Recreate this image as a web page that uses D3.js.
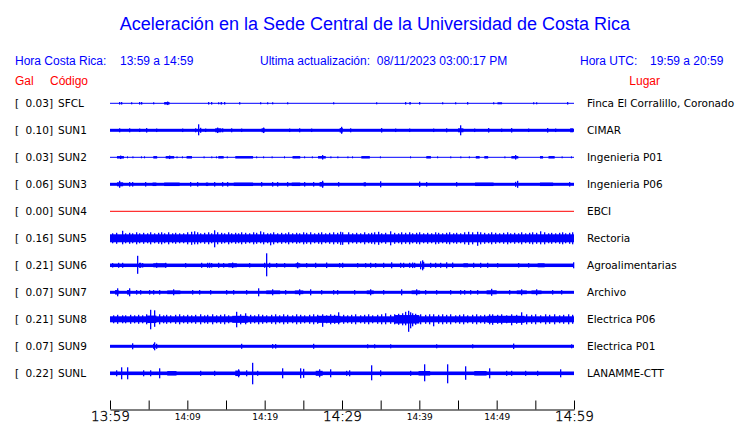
<!DOCTYPE html>
<html><head><meta charset="utf-8">
<script src="https://cdn.jsdelivr.net/npm/d3@7"></script>
<style>
html,body{margin:0;padding:0;background:#fff;}
svg{display:block;}
</style></head>
<body>
<svg id="chart" width="740" height="423"></svg>
<script>
// ---------- data ----------
const codes  = ["SFCL","SUN1","SUN2","SUN3","SUN4","SUN5","SUN6","SUN7","SUN8","SUN9","SUNL"];
const gal    = ["0.03","0.10","0.03","0.06","0.00","0.16","0.21","0.07","0.21","0.07","0.22"];
const places = ["Finca El Corralillo, Coronado","CIMAR","Ingenieria P01","Ingenieria P06","EBCI","Rectoria","Agroalimentarias","Archivo","Electrica P06","Electrica P01","LANAMME-CTT"];
// base noise half-amplitude (Gal)
const baseAmp = [0.004,0.03,0.008,0.03,0,0.08,0.035,0.03,0.06,0.03,0.036];
// bursts: [minStart, minEnd, halfAmpGal]
const bursts = {
 SFCL:[[7.0,7.7,.025],[14.3,14.5,.025],[16.7,16.85,.025],[38.7,38.9,.025],[50.1,50.7,.02]],
 SUN1:[[13.6,14.4,.04],[19.6,20.0,.04],[29.7,30.1,.045],[45.0,45.7,.04],[59.5,59.9,.04]],
 SUN2:[[0.9,1.8,.025],[2.2,2.3,.02],[2.9,3.0,.02],[4.0,4.1,.02],[4.4,4.5,.02],[5.6,6.1,.025],[7.2,8.3,.025],[8.6,8.7,.02],[9.3,9.4,.02],[9.9,10.6,.025],[12.1,12.2,.02],[13.1,13.2,.02],[13.7,13.8,.02],[14.0,14.7,.025],[15.1,15.2,.02],[16.2,18.5,.025],[18.9,19.0,.02],[19.8,19.9,.02],[20.9,21.0,.02],[22.5,22.6,.02],[23.6,24.6,.025],[25.1,25.2,.02],[26.1,26.2,.02],[26.9,27.9,.025],[28.5,28.6,.02],[29.4,29.5,.02],[30.7,30.8,.02],[31.3,31.4,.02],[32.5,33.6,.025],[34.9,35.0,.02],[38.8,38.9,.02],[40.9,41.5,.025],[42.3,42.4,.02],[44.0,44.1,.02],[45.3,45.4,.02],[46.4,46.5,.02],[47.3,47.8,.025],[48.4,48.9,.025],[51.0,51.1,.02],[51.9,52.8,.025],[55.6,56.0,.025],[56.7,57.5,.025],[58.4,58.5,.02],[59.6,59.7,.02]],
 SUN3:[[0.9,1.7,.04],[5.5,6.0,.035],[7.0,9.0,.035],[12.4,12.7,.035],[16.0,18.5,.035],[23.5,24.6,.035],[27.1,27.6,.045],[32.8,33.1,.04],[47.2,49.6,.035],[55.6,57.3,.035]],
 SUN4:[],
 SUN5:[],
 SUN6:[[5.6,7.3,.04],[15.3,16.4,.04],[24.0,24.6,.04],[45.7,46.3,.04],[55.3,56.2,.04]],
 SUN7:[[0.65,1.1,.045],[2.2,2.6,.045],[7.4,9.1,.037],[20.2,22.0,.037],[23.9,25.0,.037],[33.2,34.1,.037],[39.0,40.1,.037],[48.7,50.0,.04],[52.6,53.9,.037],[54.5,55.8,.037]],
 SUN8:[[36.8,40.0,.085],[4.8,6.0,.075],[15.8,17.8,.07],[26.8,29.8,.07],[48.8,53.6,.07]],
 SUN9:[],
 SUNL:[[7.4,8.6,.045],[16.2,16.8,.055],[26.6,27.5,.05],[39.9,41.4,.045],[47.1,48.7,.045]]
};
// spikes: [minute, upGal, downGal(optional)]
const spikes = {
 SFCL:[[1.1,.025],[1.4,.025],[2.7,.02],[3.7,.025],[4.0,.025],[5.6,.02],[7.4,.035],[12.7,.025],[13.1,.025],[14.0,.02],[14.8,.025],[19.4,.02],[20.3,.02],[20.9,.02],[22.9,.02],[28.9,.02],[34.4,.02],[38.1,.025],[39.9,.025],[42.9,.02],[44.6,.02],[46.1,.025],[49.5,.02],[54.7,.02],[55.1,.02],[59.1,.025]],
 SUN1:[[1.2,.04],[2.4,.04],[3.7,.035],[4.6,.045],[5.9,.035],[9.3,.035],[11.0,.04],[11.4,.12,.1],[11.6,.05],[12.3,.035],[13.9,.055],[14.5,.04],[15.6,.04],[16.9,.035],[19.8,.055],[23.1,.035],[24.4,.04],[26.0,.035],[29.9,.07],[31.0,.04],[35.1,.045],[36.8,.035],[38.6,.035],[41.8,.035],[43.5,.04],[45.3,.1],[47.1,.035],[48.9,.045],[50.5,.035],[51.9,.045],[54.0,.035],[56.5,.045],[57.5,.035]],
 SUN2:[[27.35,.045],[52.4,.045],[1.3,.035],[7.6,.035]],
 SUN3:[[1.2,.07],[2.4,.045],[2.8,.045],[4.5,.045],[10.4,.045],[11.3,.045],[13.4,.045],[14.5,.045],[15.1,.045],[19.5,.045],[21.0,.045],[21.6,.045],[22.9,.045],[25.1,.045],[26.3,.045],[27.4,.07],[29.5,.045],[34.9,.06],[39.9,.055],[40.9,.045],[44.7,.045],[52.4,.05],[52.6,.07],[59.4,.045]],
 SUN4:[],
 SUN5:[[0.3,.1],[0.8,.11],[1.5,.15,.12],[1.9,.1],[2.4,.11],[2.9,.1],[3.3,.12],[3.8,.1],[4.3,.11],[4.8,.1],[5.2,.12],[5.7,.1],[6.2,.11],[6.6,.12],[7.0,.1],[7.5,.12],[8.0,.1],[8.4,.11],[8.9,.1],[9.4,.1],[9.9,.12],[10.5,.13],[10.8,.14,.12],[11.2,.12],[11.7,.1],[12.2,.11],[12.7,.12],[13.1,.1],[13.4,.16,.18],[13.8,.12],[14.3,.11],[14.8,.1],[15.2,.12],[15.7,.1],[16.1,.11],[16.6,.1],[17.0,.12],[17.5,.11],[18.0,.1],[18.5,.12],[18.9,.11],[19.4,.14,.1],[19.8,.12],[20.3,.1],[20.7,.1,.14],[21.1,.12],[21.6,.1],[22.1,.11],[22.6,.1],[23.0,.12],[23.5,.1],[24.0,.11],[24.5,.1],[25.0,.12],[25.4,.11],[25.9,.12],[26.4,.1],[26.9,.11],[27.3,.12],[27.8,.1],[28.3,.11],[28.8,.12],[29.3,.11],[29.8,.13],[30.0,.12,.13],[30.8,.12],[31.3,.1],[31.8,.11],[32.3,.1],[32.8,.12],[33.3,.1],[33.8,.11],[34.2,.12],[34.6,.13],[35.1,.1],[35.6,.11],[36.2,.14],[36.7,.11],[37.2,.1],[37.6,.12],[38.1,.11],[38.6,.12],[39.1,.1],[39.6,.11],[40.0,.12],[40.5,.1],[41.0,.11],[41.5,.1],[42.0,.12],[42.4,.11],[42.9,.1],[43.4,.11],[43.9,.12],[44.3,.1],[44.8,.11],[45.3,.1],[45.8,.12],[46.3,.13],[46.8,.12],[47.4,.13,.15],[47.9,.12],[48.4,.11],[48.9,.1],[49.3,.12],[49.8,.11],[50.3,.1],[50.8,.11],[51.3,.12],[51.7,.1],[52.2,.11],[52.7,.1],[53.2,.12],[53.7,.1],[54.2,.11],[54.6,.12],[55.1,.11],[55.6,.14,.12],[56.1,.12],[56.6,.1],[57.0,.11],[57.5,.1],[58.0,.11],[58.5,.12],[58.9,.1],[59.4,.11],[59.8,.12]],
 SUN6:[[0.3,.045],[1.0,.05],[1.6,.05],[3.5,.19,.17],[3.7,.05],[3.9,.05],[4.2,.045],[6.0,.05],[7.1,.05],[9.7,.045],[11.8,.05],[12.5,.05],[12.8,.05],[13.1,.045],[14.0,.05],[14.6,.045],[15.8,.055],[18.0,.045],[19.9,.05],[20.2,.24,.22],[20.5,.05],[21.5,.045],[22.5,.045],[24.2,.06],[25.3,.045],[26.5,.05],[27.9,.055],[29.6,.045],[30.0,.05],[31.9,.045],[33.0,.045],[33.6,.05],[34.3,.045],[35.3,.05],[36.4,.06],[37.5,.05],[37.9,.05],[38.6,.05],[39.0,.055],[39.3,.05],[40.1,.08],[40.3,.1],[40.5,.07],[41.4,.05],[42.0,.05],[42.7,.05],[43.5,.06],[44.2,.055],[47.0,.05],[47.9,.05],[48.8,.05],[50.1,.045],[52.7,.045],[54.0,.045],[59.9,.06]],
 SUN7:[[0.9,.08],[2.4,.08],[3.3,.045],[3.9,.045],[5.1,.045],[5.6,.045],[6.3,.045],[8.2,.06],[10.6,.045],[11.5,.045],[12.9,.045],[15.0,.045],[15.9,.045],[17.6,.045],[19.1,.08],[21.0,.06],[22.6,.045],[24.4,.06],[25.8,.06],[27.3,.045],[28.8,.045],[29.4,.045],[31.5,.045],[33.6,.06],[35.3,.045],[37.6,.06],[39.6,.06],[40.7,.045],[42.1,.045],[44.0,.045],[45.2,.045],[45.8,.045],[46.6,.045],[47.4,.045],[49.3,.07],[51.6,.045],[53.2,.06],[55.1,.06],[57.1,.045],[58.3,.045]],
 SUN8:[[0.4,.08],[0.9,.09],[1.5,.08],[2.0,.08],[2.6,.09],[3.1,.08],[3.6,.09],[4.1,.08],[4.6,.1],[5.2,.19,.2],[5.7,.18,.15],[6.3,.1],[6.8,.08],[7.3,.09],[7.8,.08],[8.4,.09],[8.9,.1],[9.4,.08],[10.0,.09],[10.5,.08],[11.0,.09],[11.6,.1],[12.1,.08],[12.6,.09],[13.2,.1],[13.7,.08],[14.2,.09],[14.8,.1],[15.3,.08],[16.3,.15,.16],[16.8,.1],[17.5,.12,.1],[18.1,.09],[18.6,.08],[19.2,.1],[19.7,.09],[20.2,.08],[20.8,.09],[21.3,.1],[21.9,.08],[22.4,.1],[22.9,.09],[23.5,.08],[24.0,.1],[24.6,.09],[25.1,.08],[25.7,.09],[26.2,.1],[26.8,.09],[27.4,.1,.15],[27.9,.08],[28.5,.1],[29.0,.09],[29.5,.14,.1],[30.1,.09],[30.6,.08],[31.2,.09],[31.7,.1],[32.3,.08],[32.8,.09],[33.4,.1],[33.9,.08],[34.5,.09],[35.0,.1],[35.6,.12,.1],[36.2,.09],[36.7,.1],[37.2,.11],[37.7,.12],[38.1,.15,.12],[38.5,.17,.25],[38.8,.14,.18],[39.0,.12,.14],[39.5,.11],[40.1,.1],[40.7,.09],[41.2,.1],[41.8,.1,.14],[42.4,.09],[42.9,.1],[43.5,.09],[44.0,.1],[44.6,.08],[45.1,.09],[45.7,.1],[46.2,.08],[46.8,.09],[47.3,.1],[47.9,.08],[48.4,.09],[49.0,.1],[49.4,.1,.11],[50.0,.09],[50.6,.1],[51.2,.08],[51.9,.1,.12],[52.5,.09],[53.2,.14,.11],[53.8,.1],[54.4,.09],[55.0,.1],[55.6,.08],[56.2,.1],[56.8,.09],[57.4,.1],[58.0,.08],[58.6,.09],[59.2,.1],[59.8,.09]],
 SUN9:[[2.9,.06],[5.5,.05],[5.7,.08],[5.9,.05],[17.0,.05],[20.9,.045],[21.3,.045],[26.2,.05],[33.2,.04],[34.1,.04],[36.2,.04],[42.2,.04],[46.8,.04],[52.1,.055],[59.6,.04]],
 SUNL:[[0.78,.06],[1.38,.12],[2.15,.12],[4.3,.06],[5.2,.06],[6.3,.1],[11.6,.05],[13.4,.05],[16.5,.08],[17.6,.06],[18.4,.21,.22],[19.0,.05],[22.2,.1],[24.6,.1],[25.0,.09],[27.0,.08],[28.4,.08],[30.5,.05],[30.9,.06],[33.8,.16,.14],[34.9,.06],[38.8,.05],[40.6,.18,.16],[43.6,.18,.2],[45.9,.14,.13],[49.0,.1],[51.2,.05],[51.8,.05],[53.7,.05],[55.2,.05],[58.2,.08]]
};
const tickMinutes = [0,5,10,15,20,25,30,35,40,45,50,55,60];
const tickLabels  = {0:"13:59",10:"14:09",20:"14:19",30:"14:29",40:"14:39",50:"14:49",60:"14:59"};

// ---------- drawing ----------
const svg = d3.select("#chart");
const BLUE = "#0000ff", RED = "#ff0000";
const x = d3.scaleLinear().domain([0,60]).range([110,574]);
const y = d3.scalePoint().domain(codes).range([103.3,373.3]);
const a = d3.scaleLinear().domain([0,1]).range([0,50]);

// header
svg.append("text").attr("x",375).attr("y",30).attr("text-anchor","middle")
  .attr("font-family","Liberation Sans, Arial, sans-serif").attr("font-size",18).attr("fill",BLUE)
  .text("Aceleración en la Sede Central de la Universidad de Costa Rica");
const hdr = [
  {x:15, t:"Hora Costa Rica:"},{x:120,t:"13:59 a 14:59"},
  {x:260,t:"Ultima actualización:  08/11/2023 03:00:17 PM"},
  {x:580,t:"Hora UTC:"},{x:650,t:"19:59 a 20:59"}];
svg.selectAll("text.hdr").data(hdr).join("text").attr("class","hdr")
  .attr("x",d=>d.x).attr("y",65).attr("font-family","Liberation Sans, Arial, sans-serif")
  .attr("font-size",12).attr("fill",BLUE).style("white-space","pre").text(d=>d.t);
const hdr2 = [{x:15,t:"Gal",anchor:"start"},{x:50,t:"Código",anchor:"start"},{x:660,t:"Lugar",anchor:"end"}];
svg.selectAll("text.hdr2").data(hdr2).join("text").attr("class","hdr2")
  .attr("x",d=>d.x).attr("y",85).attr("text-anchor",d=>d.anchor)
  .attr("font-family","Liberation Sans, Arial, sans-serif").attr("font-size",12).attr("fill",RED).text(d=>d.t);

// row labels
const lf = "DejaVu Sans, sans-serif";
const rows = svg.append("g");
codes.forEach((c,i)=>{
  const yy = y(c)+4;
  rows.append("text").attr("x",15).attr("y",yy).attr("font-family",lf).attr("font-size",10.5).text("[");
  rows.append("text").attr("x",53).attr("y",yy).attr("text-anchor","end").attr("font-family",lf).attr("font-size",10.5).text(gal[i]+"]");
  rows.append("text").attr("x",58).attr("y",yy).attr("font-family",lf).attr("font-size",10.5).text(c);
  rows.append("text").attr("x",587).attr("y",yy).attr("font-family",lf).attr("font-size",10.5).text(places[i]);
});

// traces
const tr = svg.append("g");
codes.forEach((c,i)=>{
  const yc = y(c);
  const col = c==="SUN4" ? RED : BLUE;
  const h = Math.max(1, 2*a(baseAmp[i]));
  tr.append("rect").attr("x",x(0)).attr("width",x(60)-x(0))
    .attr("y",yc-h/2).attr("height",h).attr("fill",col);
  tr.selectAll(null).data(bursts[c]).join("rect")
    .attr("x",d=>x(d[0])).attr("width",d=>Math.max(1,x(d[1])-x(d[0])))
    .attr("y",d=>yc-a(d[2])).attr("height",d=>2*a(d[2])).attr("fill",col);
  tr.selectAll(null).data(spikes[c]).join("rect")
    .attr("x",d=>Math.round(x(d[0]))).attr("width",1.3)
    .attr("y",d=>yc-a(d[1])).attr("height",d=>a(d[1])+a(d.length>2?d[2]:d[1])).attr("fill",col);
});

// axis
const axis = d3.axisBottom(x).tickValues(tickMinutes).tickSize(-9).tickSizeOuter(0).tickPadding(2)
  .tickFormat(d=>tickLabels[d]||"");
const ag = svg.append("g").attr("transform","translate(0,409.5)").call(axis);
ag.select(".domain").attr("stroke","#000");
ag.selectAll(".tick line").attr("stroke","#000");
const big = d=>d%30===0;
ag.selectAll(".tick text").attr("fill","#000")
  .attr("font-family",d=>big(d)?"DejaVu Sans ExtraLight, DejaVu Sans, sans-serif":lf)
  .attr("font-weight",d=>big(d)?300:400)
  .attr("stroke",d=>big(d)?"#000":"none").attr("stroke-width",d=>big(d)?0.35:0)
  .attr("font-size",d=>big(d)?13.5:9).attr("dy",d=>big(d)?"0.72em":"0.9em");
</script>
</body></html>
